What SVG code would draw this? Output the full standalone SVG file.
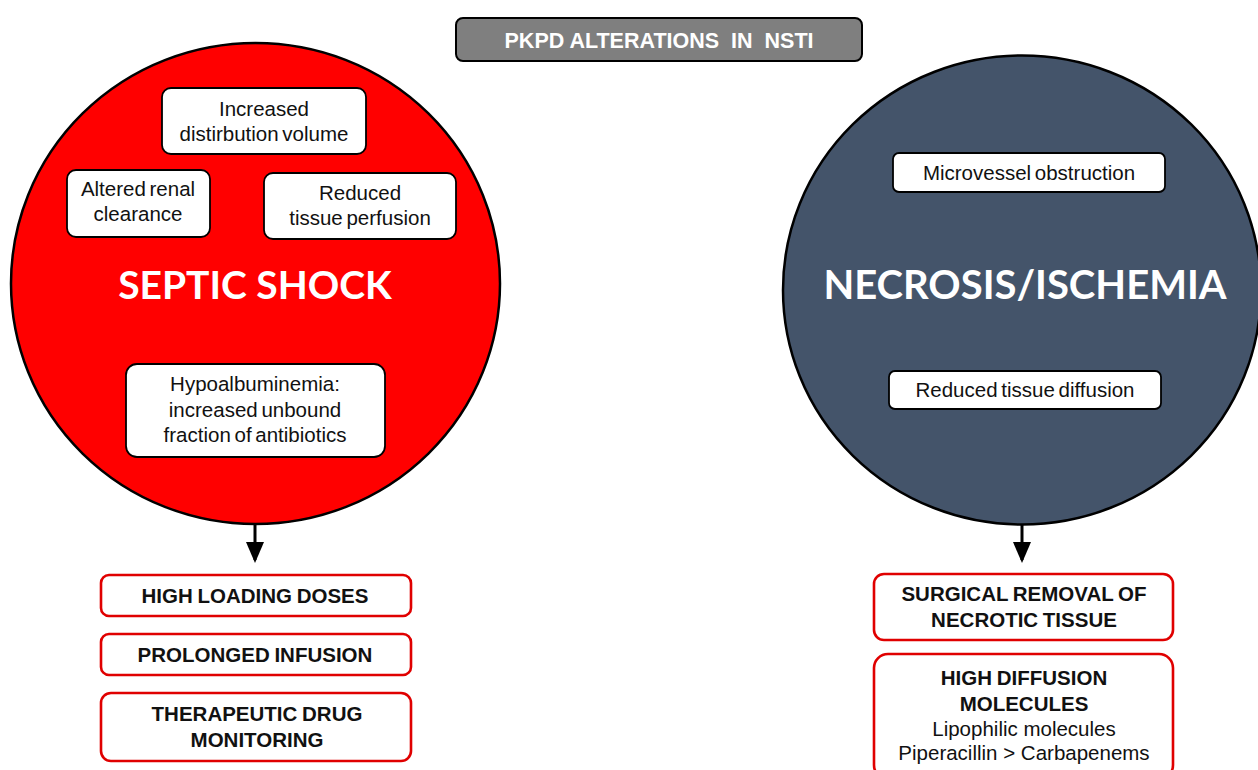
<svg xmlns="http://www.w3.org/2000/svg" width="1258" height="770" viewBox="0 0 1258 770">
<style>
.bg{fill:#ffffff}
.circ{stroke:#000;stroke-width:2.5}
.ib{fill:#fff;stroke:#000;stroke-width:1.8}
.ob{fill:#fff;stroke:#e00000;stroke-width:2.6}
.t{font-family:"Liberation Sans",Arial,sans-serif;font-size:20.5px;fill:#111;text-anchor:middle;word-spacing:-2px}
.tn{font-family:"Liberation Sans",Arial,sans-serif;font-size:20.5px;fill:#111;text-anchor:middle}
.tb{font-family:"Liberation Sans",Arial,sans-serif;font-size:20.5px;font-weight:bold;fill:#111;text-anchor:middle;word-spacing:-1px}
.big{font-family:Lato,"Open Sans",sans-serif;font-size:39px;font-weight:bold;fill:#fff;text-anchor:middle}
.ttl{font-family:"Liberation Sans",Arial,sans-serif;font-size:21.5px;font-weight:bold;fill:#fff;text-anchor:middle;white-space:pre}
.arr{stroke:#000;stroke-width:3;fill:none}
</style>
<defs>
<marker id="ah" markerWidth="7" markerHeight="6" refX="6" refY="3" orient="auto" markerUnits="strokeWidth">
<path d="M0,0 L7,3 L0,6 Z" fill="#000"/>
</marker>
</defs>
<rect class="bg" x="0" y="0" width="1258" height="770"/>
<g id="title">
<rect x="456" y="18" width="406" height="43" rx="7" fill="#7f7f7f" stroke="#000" stroke-width="2"/>
<text class="ttl" x="659" y="48" xml:space="preserve">PKPD ALTERATIONS  IN  NSTI</text>
</g>
<g id="septic-shock">
<ellipse class="circ" cx="255.5" cy="283.5" rx="244.5" ry="240.5" fill="#ff0000"/>
<text class="big" x="255" y="299">SEPTIC SHOCK</text>
</g>
<g id="distribution-volume">
<rect class="ib" x="162" y="88" width="204" height="66" rx="9"/>
<text class="t" x="264" y="116">Increased</text>
<text class="t" x="264" y="141">distirbution volume</text>
</g>
<g id="renal-clearance">
<rect class="ib" x="67" y="170" width="143" height="67" rx="9"/>
<text class="t" x="138" y="196">Altered renal</text>
<text class="t" x="138" y="221">clearance</text>
</g>
<g id="tissue-perfusion">
<rect class="ib" x="264" y="173" width="192" height="66" rx="9"/>
<text class="t" x="360" y="200">Reduced</text>
<text class="t" x="360" y="225">tissue perfusion</text>
</g>
<g id="hypoalbuminemia">
<rect class="ib" x="126" y="364" width="259" height="93" rx="11"/>
<text class="t" x="255" y="391">Hypoalbuminemia:</text>
<text class="t" x="255" y="417">increased unbound</text>
<text class="t" x="255" y="442">fraction of antibiotics</text>
</g>
<g id="necrosis-ischemia">
<ellipse class="circ" cx="1022" cy="290" rx="239" ry="234.5" fill="#44546a"/>
<text class="big" x="1025" y="299" style="font-size:40px">NECROSIS/ISCHEMIA</text>
</g>
<g id="microvessel">
<rect class="ib" x="893" y="153" width="272" height="39" rx="6"/>
<text class="t" x="1029" y="180">Microvessel obstruction</text>
</g>
<g id="tissue-diffusion">
<rect class="ib" x="889" y="371" width="272" height="38" rx="6"/>
<text class="t" x="1025" y="397">Reduced tissue diffusion</text>
</g>
<g id="connectors">
<line class="arr" x1="255" y1="524" x2="255" y2="560" marker-end="url(#ah)"/>
<line class="arr" x1="1022" y1="524" x2="1022" y2="560" marker-end="url(#ah)"/>
</g>
<g id="loading-doses">
<rect class="ob" x="101" y="575" width="310" height="41" rx="8"/>
<text class="tb" x="255" y="603">HIGH LOADING DOSES</text>
</g>
<g id="prolonged-infusion">
<rect class="ob" x="101" y="634" width="310" height="41" rx="8"/>
<text class="tb" x="255" y="662">PROLONGED INFUSION</text>
</g>
<g id="tdm">
<rect class="ob" x="101" y="693" width="310" height="68" rx="10"/>
<text class="tb" x="257" y="721">THERAPEUTIC DRUG</text>
<text class="tb" x="257" y="747">MONITORING</text>
</g>
<g id="surgical-removal">
<rect class="ob" x="874" y="574" width="299" height="66" rx="10"/>
<text class="tb" x="1024" y="601">SURGICAL REMOVAL OF</text>
<text class="tb" x="1024" y="627">NECROTIC TISSUE</text>
</g>
<g id="high-diffusion">
<rect class="ob" x="874" y="654" width="299" height="125" rx="14"/>
<text class="tb" x="1024" y="685">HIGH DIFFUSION</text>
<text class="tb" x="1024" y="711">MOLECULES</text>
<text class="tn" x="1024" y="736">Lipophilic molecules</text>
<text class="tn" x="1024" y="760">Piperacillin &gt; Carbapenems</text>
</g>
</svg>
